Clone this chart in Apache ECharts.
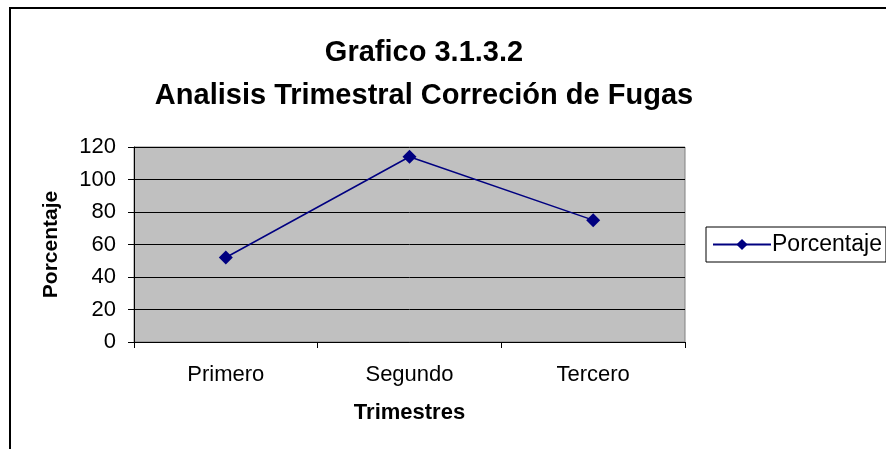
<!DOCTYPE html>
<html>
<head>
<meta charset="utf-8">
<script src="https://cdn.jsdelivr.net/npm/echarts@6/dist/echarts.min.js"></script>
<style>
  html, body { margin: 0; padding: 0; background: #fff; }
</style>
</head>
<body>
<div id="myChart" style="width: 886px;height:449px;"></div>
<script>
// datos del grafico
var trimestres = ["Primero", "Segundo", "Tercero"];
var porcentaje = [52, 114, 75];
var yTicks = [0, 20, 40, 60, 80, 100, 120];

var font = "Liberation Sans, Arial, sans-serif";
var myChart = echarts.init(document.getElementById("myChart"));

myChart.setOption({
  animation: false,
  title: {
    text: "Grafico 3.1.3.2\nAnalisis Trimestral Correción de Fugas",
    left: 419,
    top: 26,
    textAlign: "center",
    textStyle: {
      fontFamily: font,
      fontSize: 29,
      fontWeight: "bold",
      color: "#000",
      lineHeight: 43
    }
  },
  legend: {
    data: ["Porcentaje"],
    left: 706,
    top: 227,
    orient: "vertical",
    padding: [6, 4, 6, 6],
    itemWidth: 58,
    itemHeight: 14,
    itemGap: 0,
    borderColor: "#000",
    borderWidth: 1,
    textStyle: { fontFamily: font, fontSize: 23, color: "#000", padding: [0, 0, 0, -4] }
  },
  graphic: [
    {
      type: "rect",
      shape: { x: 10, y: 8, width: 1000, height: 600 },
      style: { fill: "none", stroke: "#000", lineWidth: 2 },
      silent: true
    }
  ],
  grid: {
    left: 134,
    top: 147,
    width: 551,
    height: 195,
    show: true,
    backgroundColor: "#c0c0c0",
    borderColor: "#808080",
    borderWidth: 1
  },
  xAxis: {
    type: "category",
    data: trimestres,
    boundaryGap: true,
    name: "Trimestres",
    nameLocation: "middle",
    nameGap: 60,
    nameTextStyle: { fontFamily: font, fontSize: 22, fontWeight: "bold", color: "#000" },
    axisLine: { lineStyle: { color: "#000", width: 1 } },
    axisTick: { show: true, length: 6, lineStyle: { color: "#000" } },
    axisLabel: { fontFamily: font, fontSize: 22, color: "#000", margin: 22 },
    splitLine: { show: false }
  },
  yAxis: {
    type: "value",
    min: yTicks[0],
    max: yTicks[yTicks.length - 1],
    interval: 20,
    name: "Porcentaje",
    nameLocation: "middle",
    nameGap: 72,
    nameTextStyle: { fontFamily: font, fontSize: 21, fontWeight: "bold", color: "#000" },
    axisLine: { show: true, lineStyle: { color: "#000", width: 1 } },
    axisTick: { show: true, length: 6, lineStyle: { color: "#000" } },
    axisLabel: { fontFamily: font, fontSize: 22, color: "#000", margin: 18 },
    splitLine: { show: true, lineStyle: { color: "#000", width: 1 } }
  },
  series: [
    {
      name: "Porcentaje",
      type: "line",
      data: porcentaje,
      symbol: "diamond",
      symbolSize: 14,
      lineStyle: { color: "#000080", width: 1.5 },
      itemStyle: { color: "#000080" }
    }
  ]
});
</script>
</body>
</html>
